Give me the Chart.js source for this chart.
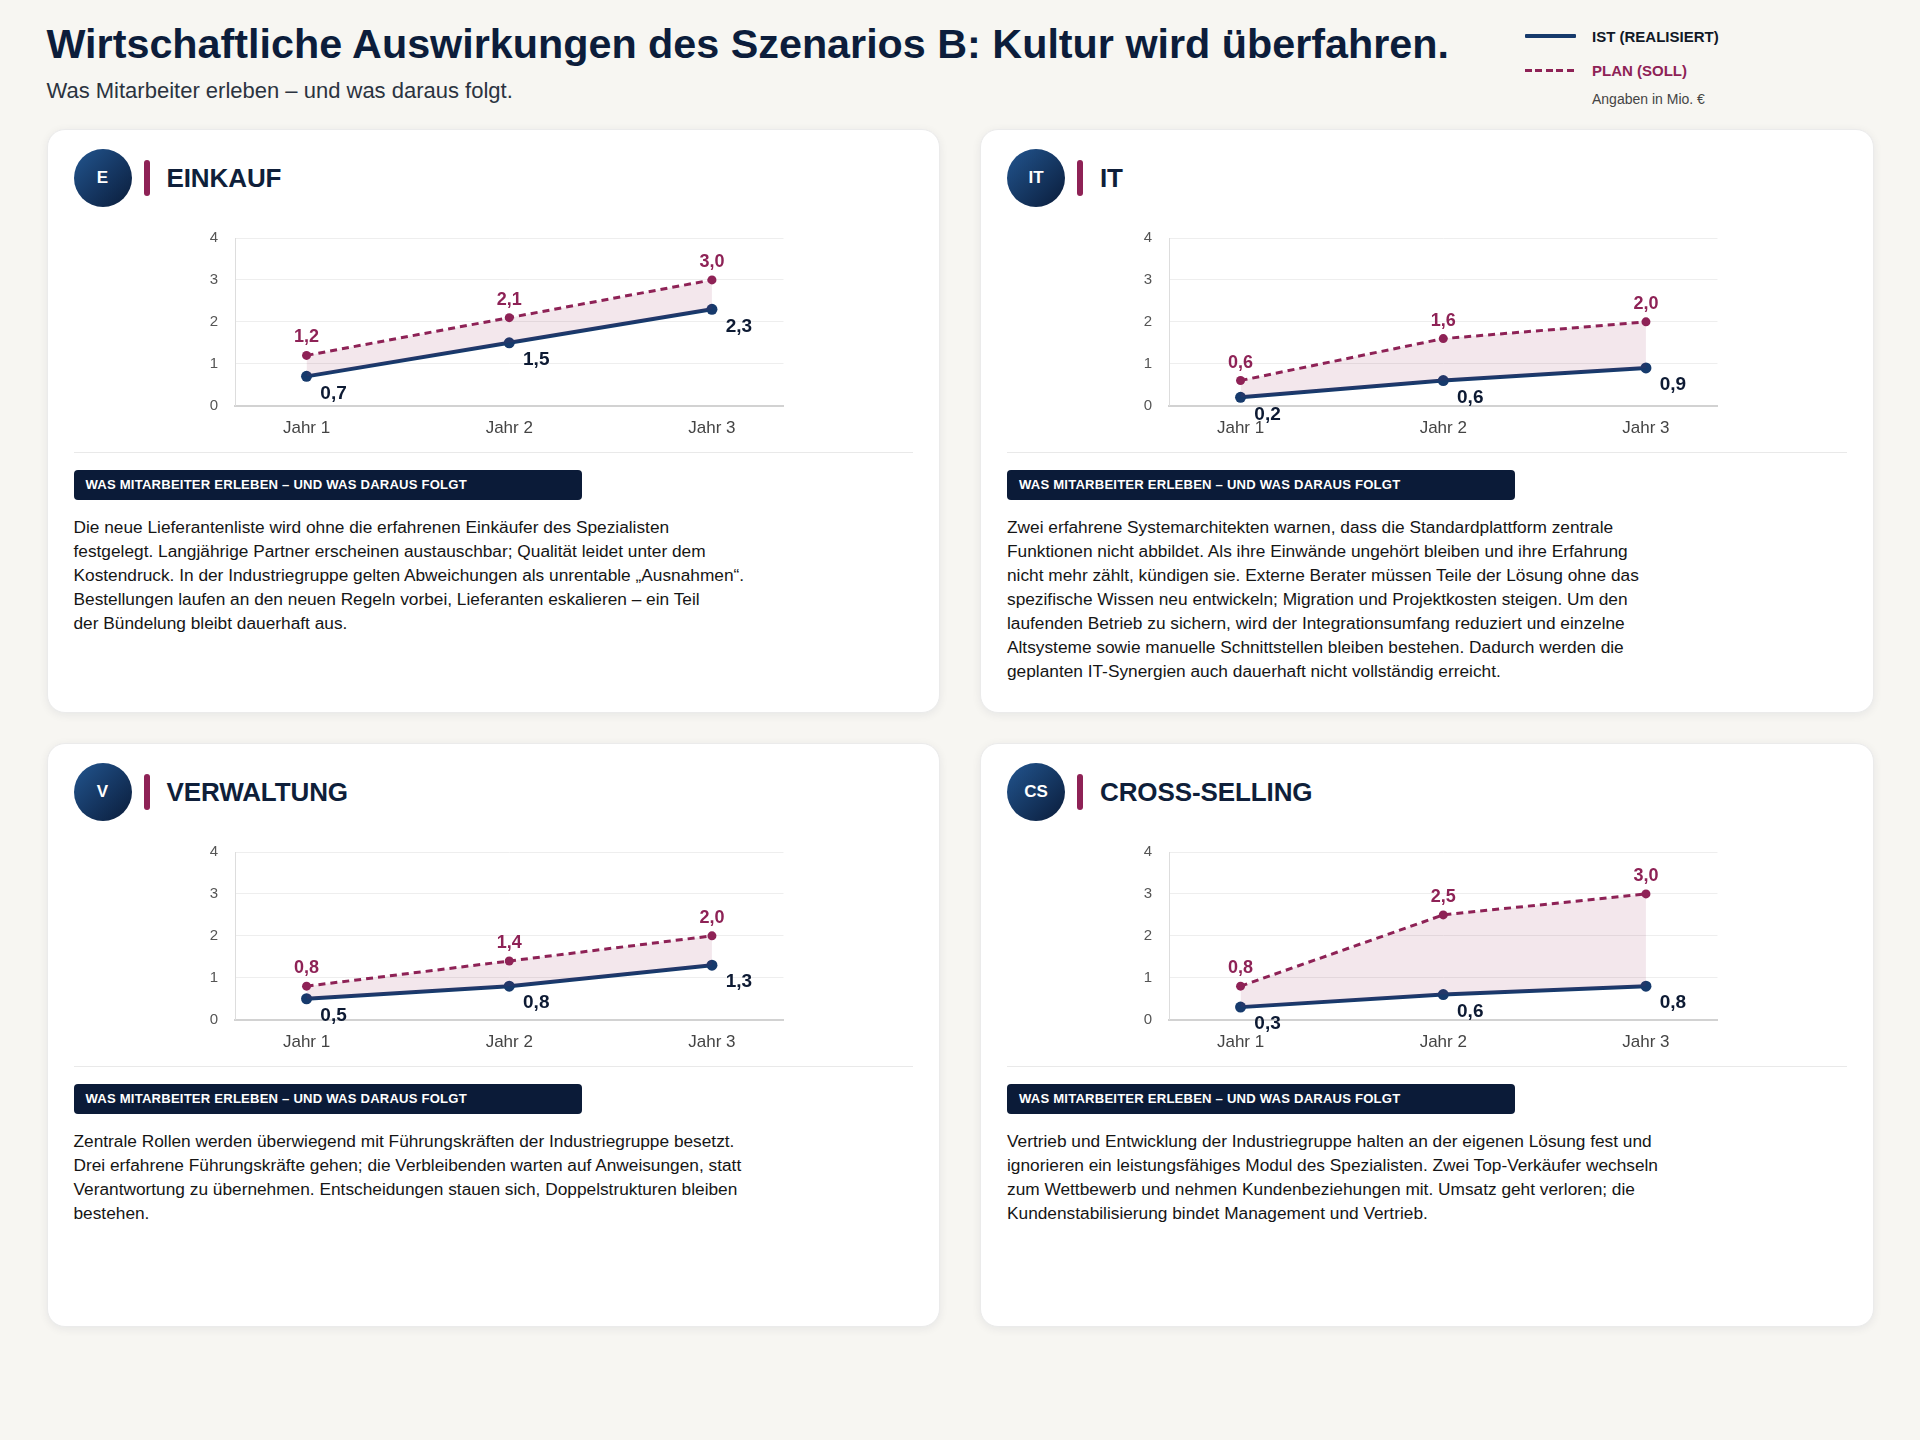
<!DOCTYPE html>
<html lang="de">
<head>
<meta charset="utf-8">
<title>Szenario B – Kultur wird überfahren</title>
<script src="https://cdn.jsdelivr.net/npm/chart.js@4.4.1/dist/chart.umd.min.js"></script>
<style>
  html, body { margin: 0; padding: 0; }
  body {
    width: 1920px; height: 1440px; overflow: hidden; position: relative;
    background: #f7f6f2;
    font-family: "Liberation Sans", Arial, Helvetica, sans-serif;
  }
  .page { padding: 22px 46.5px 0; }
  h1 { margin: 0; font-size: 41.3px; line-height: 45px; font-weight: 700; color: #0c1d3b; }
  .sub { margin: 10px 0 0; font-size: 22px; line-height: 28.6px; color: #2b3340; }

  .legend { position: absolute; left: 1525px; top: 0; }
  .lg { position: absolute; left: 0; height: 20px; display: flex; align-items: center; white-space: nowrap; }
  .ln { width: 51px; height: 4px; margin-right: 16px; }
  .ln.solid { background: #163a6c; border-radius: 1px; }
  .ln.dash { height: 3px; background: repeating-linear-gradient(90deg, #8e2256 0 7px, transparent 7px 10.5px); }
  .lg .t { font-size: 15px; font-weight: 700; }
  .t.ist { color: #111827; }
  .t.plan { color: #8e2256; }
  .note { position: absolute; left: 67px; top: 89px; font-size: 14px; line-height: 20px; color: #444; white-space: nowrap; }

  .grid {
    display: grid; grid-template-columns: 1fr 1fr;
    column-gap: 40px; row-gap: 30.6px; grid-auto-rows: 583.4px;
    margin-top: 23.7px;
  }
  .card {
    background: #fff; border: 1px solid #ebebeb; border-radius: 18px;
    box-shadow: 0 2px 10px rgba(20, 30, 50, 0.07);
    padding: 19px 26px 0; box-sizing: border-box;
  }
  .head { display: flex; align-items: center; height: 58px; }
  .badge {
    width: 58px; height: 58px; border-radius: 50%; flex: none;
    background: linear-gradient(135deg, #22558f 0%, #0a1c3a 100%);
    color: #fff; font-weight: 700; font-size: 17px;
    display: flex; align-items: center; justify-content: center;
  }
  .bar { width: 6px; height: 36px; border-radius: 3px; background: #8e2256; margin-left: 12px; flex: none; }
  .head h2 { margin: 0 0 0 17px; font-size: 26px; font-weight: 700; color: #0f1f3a; letter-spacing: -0.1px; }
  .chartbox { width: 600px; height: 231.2px; margin: 4.8px auto 0; position: relative; }
  .sep { height: 1px; background: #e9e9e9; margin-top: 9px; }
  .tag {
    width: 508px; height: 30px; box-sizing: border-box; margin-top: 16.3px;
    background: #0b1b38; border-radius: 4px; color: #fff;
    font-size: 13.1px; font-weight: 700; letter-spacing: 0.2px; line-height: 30px; padding-left: 12px;
  }
  .card p { margin: 15px 0 0; font-size: 17.3px; line-height: 24px; color: #151515; }
</style>
</head>
<body>
<div class="page">
  <h1>Wirtschaftliche Auswirkungen des Szenarios B: Kultur wird überfahren.</h1>
  <div class="sub">Was Mitarbeiter erleben – und was daraus folgt.</div>

  <div class="legend">
    <div class="lg" style="top:26px"><span class="ln solid"></span><span class="t ist">IST (REALISIERT)</span></div>
    <div class="lg" style="top:60.7px"><span class="ln dash"></span><span class="t plan">PLAN (SOLL)</span></div>
    <div class="note">Angaben in Mio. €</div>
  </div>

  <div class="grid">
    <div class="card">
      <div class="head"><div class="badge">E</div><div class="bar"></div><h2>EINKAUF</h2></div>
      <div class="chartbox"><canvas id="einkauf"></canvas></div>
      <div class="sep"></div>
      <div class="tag">WAS MITARBEITER ERLEBEN – UND WAS DARAUS FOLGT</div>
      <p>Die neue Lieferantenliste wird ohne die erfahrenen Einkäufer des Spezialisten<br>festgelegt. Langjährige Partner erscheinen austauschbar; Qualität leidet unter dem<br>Kostendruck. In der Industriegruppe gelten Abweichungen als unrentable „Ausnahmen“.<br>Bestellungen laufen an den neuen Regeln vorbei, Lieferanten eskalieren – ein Teil<br>der Bündelung bleibt dauerhaft aus.</p>
    </div>
    <div class="card">
      <div class="head"><div class="badge">IT</div><div class="bar"></div><h2>IT</h2></div>
      <div class="chartbox"><canvas id="it"></canvas></div>
      <div class="sep"></div>
      <div class="tag">WAS MITARBEITER ERLEBEN – UND WAS DARAUS FOLGT</div>
      <p>Zwei erfahrene Systemarchitekten warnen, dass die Standardplattform zentrale<br>Funktionen nicht abbildet. Als ihre Einwände ungehört bleiben und ihre Erfahrung<br>nicht mehr zählt, kündigen sie. Externe Berater müssen Teile der Lösung ohne das<br>spezifische Wissen neu entwickeln; Migration und Projektkosten steigen. Um den<br>laufenden Betrieb zu sichern, wird der Integrationsumfang reduziert und einzelne<br>Altsysteme sowie manuelle Schnittstellen bleiben bestehen. Dadurch werden die<br>geplanten IT-Synergien auch dauerhaft nicht vollständig erreicht.</p>
    </div>
    <div class="card">
      <div class="head"><div class="badge">V</div><div class="bar"></div><h2>VERWALTUNG</h2></div>
      <div class="chartbox"><canvas id="verwaltung"></canvas></div>
      <div class="sep"></div>
      <div class="tag">WAS MITARBEITER ERLEBEN – UND WAS DARAUS FOLGT</div>
      <p>Zentrale Rollen werden überwiegend mit Führungskräften der Industriegruppe besetzt.<br>Drei erfahrene Führungskräfte gehen; die Verbleibenden warten auf Anweisungen, statt<br>Verantwortung zu übernehmen. Entscheidungen stauen sich, Doppelstrukturen bleiben<br>bestehen.</p>
    </div>
    <div class="card">
      <div class="head"><div class="badge">CS</div><div class="bar"></div><h2>CROSS-SELLING</h2></div>
      <div class="chartbox"><canvas id="cross"></canvas></div>
      <div class="sep"></div>
      <div class="tag">WAS MITARBEITER ERLEBEN – UND WAS DARAUS FOLGT</div>
      <p>Vertrieb und Entwicklung der Industriegruppe halten an der eigenen Lösung fest und<br>ignorieren ein leistungsfähiges Modul des Spezialisten. Zwei Top-Verkäufer wechseln<br>zum Wettbewerb und nehmen Kundenbeziehungen mit. Umsatz geht verloren; die<br>Kundenstabilisierung bindet Management und Vertrieb.</p>
    </div>
  </div>
</div>

<script>
// values in Mio. €
var jahre = ["Jahr 1", "Jahr 2", "Jahr 3"];
var yTicks = [0, 1, 2, 3, 4];

var einkaufPlan = [1.2, 2.1, 3.0];
var einkaufIst  = [0.7, 1.5, 2.3];
var itPlan = [0.6, 1.6, 2.0];
var itIst  = [0.2, 0.6, 0.9];
var verwaltungPlan = [0.8, 1.4, 2.0];
var verwaltungIst  = [0.5, 0.8, 1.3];
var crossPlan = [0.8, 2.5, 3.0];
var crossIst  = [0.3, 0.6, 0.8];

var PLAN = "#8e2256";
var IST = "#163a6c";
var FONT = '"Liberation Sans", Arial, sans-serif';

// draws the value labels (plan above, ist below right)
var valueLabels = {
    id: "valueLabels",
    afterDatasetsDraw: function(chart) {
        var ctx = chart.ctx;
        ctx.save();
        ctx.textBaseline = "middle";
        ctx.textAlign = "center";
        chart.data.datasets.forEach(function(ds, di) {
            chart.getDatasetMeta(di).data.forEach(function(pt, i) {
                var txt = ds.data[i].y.toFixed(1).replace(".", ",");
                if (ds.kind === "plan") {
                    ctx.font = "bold 18px " + FONT;
                    ctx.fillStyle = PLAN;
                    ctx.fillText(txt, pt.x, pt.y - 18);
                } else {
                    ctx.font = "bold 19px " + FONT;
                    ctx.fillStyle = "#0d1a33";
                    ctx.fillText(txt, pt.x + 27, pt.y + 17);
                }
            });
        });
        ctx.restore();
    }
};

function toPoints(values) {
    return values.map(function(v, i) { return { x: i, y: v }; });
}

function makeChart(id, plan, ist) {
    var config = {
        type: "line",
        data: {
            datasets: [{
                kind: "plan",
                label: "Plan (Soll)",
                data: toPoints(plan),
                borderColor: PLAN,
                borderWidth: 3,
                borderDash: [7, 5],
                backgroundColor: "rgba(142, 34, 86, 0.11)",
                pointBackgroundColor: PLAN,
                pointBorderWidth: 0,
                pointRadius: 4.5,
                fill: "+1",
                tension: 0
            }, {
                kind: "ist",
                label: "Ist (realisiert)",
                data: toPoints(ist),
                borderColor: IST,
                borderWidth: 4,
                pointBackgroundColor: IST,
                pointBorderWidth: 0,
                pointRadius: 5.5,
                fill: false,
                tension: 0
            }]
        },
        options: {
            responsive: true,
            maintainAspectRatio: false,
            animation: false,
            events: [],
            layout: { padding: { top: 11.1, right: 9.5, bottom: 1.5, left: 0 } },
            plugins: { legend: { display: false }, tooltip: { enabled: false } },
            scales: {
                x: {
                    type: "linear",
                    min: -0.353,
                    max: 2.353,
                    afterBuildTicks: function(s) {
                        s.ticks = jahre.map(function(_, i) { return { value: i }; });
                    },
                    afterFit: function(s) { s.height = 36; },
                    ticks: {
                        callback: function(v) { return jahre[v]; },
                        color: "#444",
                        font: { family: FONT, size: 17 },
                        padding: 12,
                        maxRotation: 0
                    },
                    grid: { display: false, drawTicks: false },
                    border: { color: "#d2d2d2", width: 2 }
                },
                y: {
                    min: 0,
                    max: 4,
                    afterBuildTicks: function(s) {
                        s.ticks = yTicks.map(function(v) { return { value: v }; });
                    },
                    afterFit: function(s) { s.width = 42; },
                    ticks: {
                        color: "#555",
                        font: { family: FONT, size: 15 },
                        padding: 17
                    },
                    grid: { color: "#eeeeee", drawTicks: false },
                    border: { color: "#dddddd", width: 1 }
                }
            }
        },
        plugins: [valueLabels]
    };
    return new Chart(document.getElementById(id), config);
}

makeChart("einkauf", einkaufPlan, einkaufIst);
makeChart("it", itPlan, itIst);
makeChart("verwaltung", verwaltungPlan, verwaltungIst);
makeChart("cross", crossPlan, crossIst);
</script>
</body>
</html>
